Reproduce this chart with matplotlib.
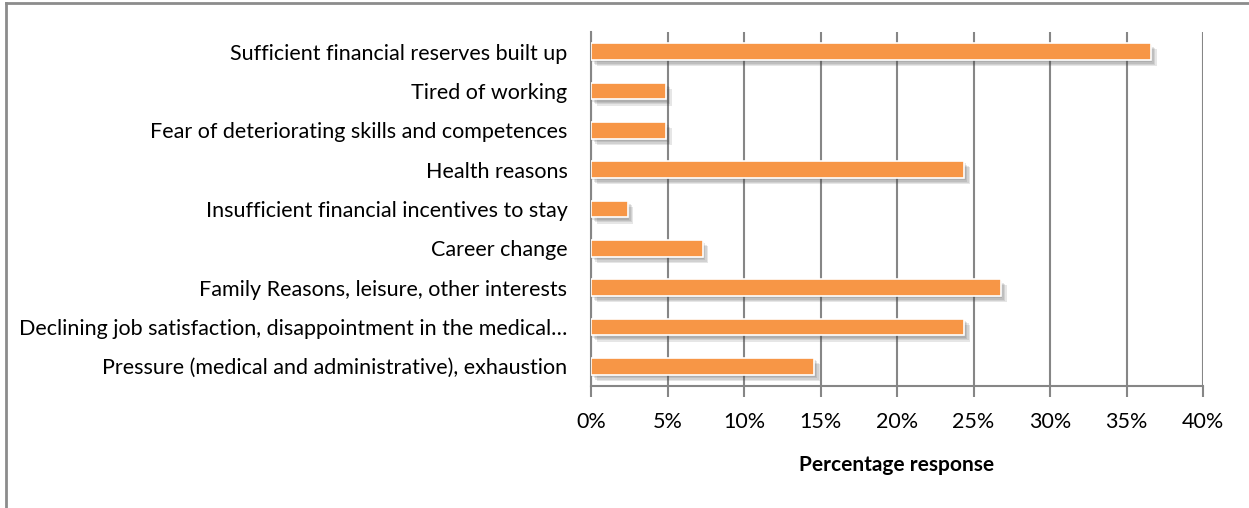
import matplotlib.pyplot as plt
import matplotlib.patheffects as pe
from matplotlib.lines import Line2D
from matplotlib.ticker import PercentFormatter

plt.rcParams['font.family'] = ['Lato', 'DejaVu Sans']

reasons = [
    "Sufficient financial reserves built up",
    "Tired of working",
    "Fear of deteriorating skills and competences",
    "Health reasons",
    "Insufficient financial incentives to stay",
    "Career change",
    "Family Reasons, leisure, other interests",
    "Declining job satisfaction, disappointment in the medical\u2026",
    "Pressure (medical and administrative), exhaustion",
]
share = [36.6, 4.9, 4.9, 24.4, 2.4, 7.3, 26.8, 24.4, 14.6]

fig = plt.figure(figsize=(12.49, 5.08), dpi=100)
ax = fig.add_axes([0.4732, 0.2402, 0.49, 0.6968])

pos = list(range(len(reasons)))[::-1]
bars = ax.barh(pos, share, height=0.43, color='#F79646', edgecolor='white',
               linewidth=1.2, zorder=3)
# soft drop shadow, built from a few faint offset copies
shadow = [pe.SimplePatchShadow(offset=(k, -k - 0.5), shadow_rgbFace='#444444', alpha=0.13)
          for k in (1, 2, 3, 4)]
for b in bars:
    b.set_path_effects(shadow + [pe.Normal()])

ax.set_xlim(0, 40)
ax.set_ylim(-0.5, len(reasons) - 0.5)
ax.set_xticks(range(0, 41, 5))
ax.xaxis.set_major_formatter(PercentFormatter(decimals=0))
ax.set_yticks(pos)
ax.set_yticklabels(reasons)
ax.tick_params(axis='y', length=0, pad=17, labelsize=15.5)
ax.tick_params(axis='x', length=8, width=1.5, color='#868686', pad=11, labelsize=15.5)
ax.grid(axis='x', color='#868686', linewidth=1.5, zorder=0)
for s in ['top', 'right']:
    ax.spines[s].set_visible(False)
for s in ['left', 'bottom']:
    ax.spines[s].set_color('#868686')
    ax.spines[s].set_linewidth(1.5)
ax.set_xlabel("Percentage response", fontsize=15, fontweight='bold', labelpad=16)

# chart frame (only top and left edges show in the crop)
fig.add_artist(Line2D([0.0052, 1.0], [0.9941, 0.9941], color='#8c8c8c', linewidth=2))
fig.add_artist(Line2D([0.0052, 0.0052], [0.0, 0.9941], color='#8c8c8c', linewidth=2))

fig.savefig('out.png', dpi=100)
